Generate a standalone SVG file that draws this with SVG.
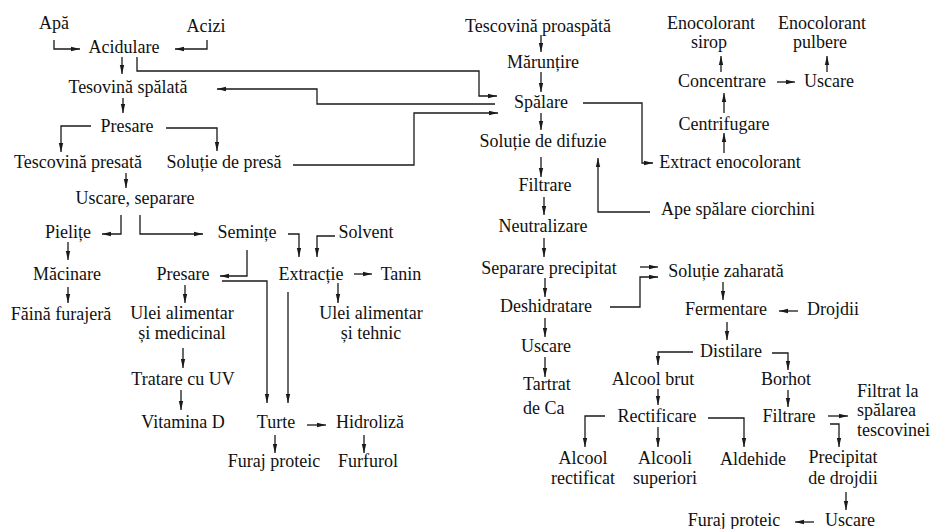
<svg xmlns="http://www.w3.org/2000/svg" width="930" height="529" viewBox="0 0 930 529">
<defs>
<marker id="ah" markerUnits="userSpaceOnUse" markerWidth="9" markerHeight="6" refX="9" refY="3" orient="auto">
<path d="M0,0.8 L9,3 L0,5.2 z" fill="#1a1a1a"/>
</marker>
<style>
text{font-family:'Liberation Serif','DejaVu Serif',serif;font-size:18px;fill:#111;text-anchor:middle}
text.l{text-anchor:start}
.c path{fill:none;stroke:#1a1a1a;stroke-width:1.3}
.c .a{marker-end:url(#ah)}
</style>
</defs>
<rect width="930" height="529" fill="#fff"/>
<g class="c" id="connectors">
<path class="a" d="M54,40 V49 H80"/>
<path class="a" d="M207,40 V49 H175"/>
<path class="a" d="M122,57 V74"/>
<path class="a" d="M137,57 V71 H479 V96 H497"/>
<path class="a" d="M495,104 H317 V89 H217"/>
<path class="a" d="M293,165 H414 V113 H498"/>
<path class="a" d="M123,98 V113"/>
<path class="a" d="M91,126 H61 V152"/>
<path class="a" d="M166,128 H217 V151"/>
<path class="a" d="M126,173 V188"/>
<path class="a" d="M121,215 V234 H102"/>
<path class="a" d="M140,215 V234 H203"/>
<path class="a" d="M68,242 V260"/>
<path class="a" d="M68,287 V303"/>
<path class="a" d="M247,250 V276 H220"/>
<path class="a" d="M222,281 H267 V403"/>
<path class="a" d="M185,285 V303"/>
<path class="a" d="M288,234 H299 V257"/>
<path class="a" d="M335,236 H317 V257"/>
<path class="a" d="M354,274 H372"/>
<path class="a" d="M338,283 V303"/>
<path class="a" d="M288,292 V403"/>
<path class="a" d="M183,348 V368"/>
<path class="a" d="M181,390 V410"/>
<path class="a" d="M307,425 H326"/>
<path class="a" d="M275,435 V453"/>
<path class="a" d="M364,435 V453"/>
<path class="a" d="M541,35 V52"/>
<path class="a" d="M541,72 V92"/>
<path class="a" d="M541,113 V130"/>
<path class="a" d="M583,103 H642 V163 H653"/>
<path class="a" d="M541,157 V177"/>
<path class="a" d="M650,212 H598 V158"/>
<path class="a" d="M544,197 V215"/>
<path class="a" d="M544,238 V257"/>
<path class="a" d="M640,267 H658"/>
<path class="a" d="M545,278 V297"/>
<path class="a" d="M610,307 H640 V277 H658"/>
<path class="a" d="M545,318 V337"/>
<path class="a" d="M545,357 V377"/>
<path class="a" d="M724,153 V133"/>
<path class="a" d="M724,113 V93"/>
<path class="a" d="M721,72 V56"/>
<path class="a" d="M777,82 H795"/>
<path class="a" d="M827,72 V56"/>
<path class="a" d="M723,282 V300"/>
<path class="a" d="M798,311 H779"/>
<path class="a" d="M727,322 V340"/>
<path class="a" d="M693,352 H658 V365"/>
<path class="a" d="M772,353 H788 V370"/>
<path class="a" d="M658,389 V405"/>
<path class="a" d="M788,390 V407"/>
<path class="a" d="M605,416 H585 V447"/>
<path class="a" d="M658,427 V447"/>
<path class="a" d="M708,418 H744 V447"/>
<path class="a" d="M828,416 H848"/>
<path class="a" d="M830,424 H839 V447"/>
<path class="a" d="M846,492 V510"/>
<path class="a" d="M814,522 H795"/>
</g>
<g font-family="'Liberation Serif', 'DejaVu Serif', serif">
<g id="apa"><text x="54" y="29">Apă</text></g>
<g id="acizi"><text x="206" y="32">Acizi</text></g>
<g id="acidulare"><text x="124" y="53">Acidulare</text></g>
<g id="tesovina-spalata"><text x="128" y="93">Tesovină spălată</text></g>
<g id="presare1"><text x="127" y="132">Presare</text></g>
<g id="tescovina-presata"><text x="78" y="168">Tescovină presată</text></g>
<g id="solutie-presa"><text x="224" y="168">Soluție de presă</text></g>
<g id="uscare-separare"><text x="135" y="204">Uscare, separare</text></g>
<g id="pielite"><text x="68" y="238">Pielițe</text></g>
<g id="seminte"><text x="247" y="238">Semințe</text></g>
<g id="solvent"><text x="366" y="238">Solvent</text></g>
<g id="macinare"><text x="67" y="280">Măcinare</text></g>
<g id="presare2"><text x="183" y="280">Presare</text></g>
<g id="extractie"><text x="311" y="280">Extracție</text></g>
<g id="tanin"><text x="401" y="280">Tanin</text></g>
<g id="faina"><text x="61" y="320">Făină furajeră</text></g>
<g id="ulei-medicinal"><text x="182" y="319">Ulei alimentar</text><text x="182" y="339">și medicinal</text></g>
<g id="ulei-tehnic"><text x="371" y="319">Ulei alimentar</text><text x="371" y="339">și tehnic</text></g>
<g id="tratare"><text x="183" y="385">Tratare cu UV</text></g>
<g id="vitamina"><text x="183" y="428">Vitamina D</text></g>
<g id="turte"><text x="276" y="428">Turte</text></g>
<g id="hidroliza"><text x="370" y="428">Hidroliză</text></g>
<g id="furaj1"><text x="274" y="467">Furaj proteic</text></g>
<g id="furfurol"><text x="368" y="467">Furfurol</text></g>
<g id="tescovina-proaspata"><text x="538" y="32">Tescovină proaspătă</text></g>
<g id="maruntire"><text x="543" y="68">Mărunțire</text></g>
<g id="spalare"><text x="541" y="108">Spălare</text></g>
<g id="solutie-difuzie"><text x="543" y="147">Soluție de difuzie</text></g>
<g id="filtrare1"><text x="545" y="191">Filtrare</text></g>
<g id="neutralizare"><text x="543" y="232">Neutralizare</text></g>
<g id="separare-precipitat"><text x="549" y="274">Separare precipitat</text></g>
<g id="deshidratare"><text x="546" y="312">Deshidratare</text></g>
<g id="uscare2"><text x="546" y="352">Uscare</text></g>
<g id="tartrat"><text class="l" x="523" y="390">Tartrat</text><text class="l" x="523" y="414">de Ca</text></g>
<g id="eno-sirop"><text x="711" y="29">Enocolorant</text><text x="709" y="48">sirop</text></g>
<g id="eno-pulbere"><text x="822" y="29">Enocolorant</text><text x="820" y="48">pulbere</text></g>
<g id="concentrare"><text x="722" y="87">Concentrare</text></g>
<g id="uscare4"><text x="829" y="87">Uscare</text></g>
<g id="centrifugare"><text x="724" y="130">Centrifugare</text></g>
<g id="extract"><text x="730" y="168">Extract enocolorant</text></g>
<g id="ape"><text x="738" y="215">Ape spălare ciorchini</text></g>
<g id="solutie-zaharata"><text x="726" y="277">Soluție zaharată</text></g>
<g id="fermentare"><text x="726" y="315">Fermentare</text></g>
<g id="drojdii"><text x="833" y="315">Drojdii</text></g>
<g id="distilare"><text x="731" y="357">Distilare</text></g>
<g id="alcool-brut"><text x="653" y="385">Alcool brut</text></g>
<g id="borhot"><text x="786" y="385">Borhot</text></g>
<g id="rectificare"><text x="657" y="422">Rectificare</text></g>
<g id="filtrare2"><text x="789" y="422">Filtrare</text></g>
<g id="filtrat"><text class="l" x="857" y="397">Filtrat la</text><text class="l" x="857" y="416">spălarea</text><text class="l" x="857" y="436">tescovinei</text></g>
<g id="alcool-rectificat"><text x="583" y="464">Alcool</text><text x="583" y="484">rectificat</text></g>
<g id="alcooli-superiori"><text x="665" y="464">Alcooli</text><text x="665" y="484">superiori</text></g>
<g id="aldehide"><text x="753" y="465">Aldehide</text></g>
<g id="precipitat"><text x="843" y="463">Precipitat</text><text x="843" y="484">de drojdii</text></g>
<g id="furaj2"><text x="734" y="526">Furaj proteic</text></g>
<g id="uscare3"><text x="850" y="526">Uscare</text></g>
</g>
</svg>
